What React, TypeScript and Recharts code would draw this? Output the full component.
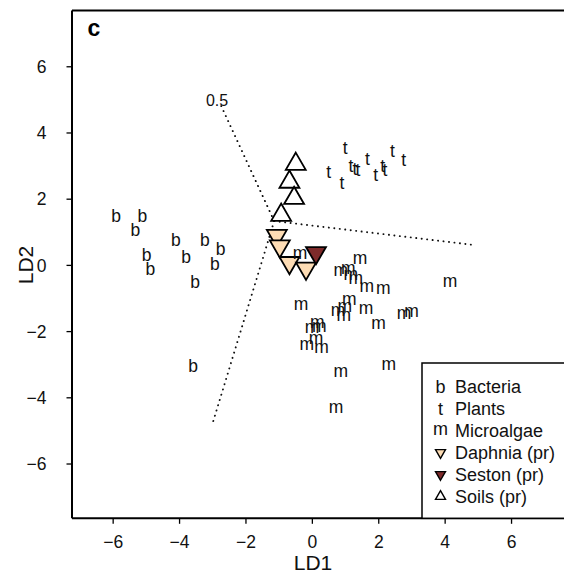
import React from "react";
import {
  ScatterChart,
  Scatter,
  XAxis,
  YAxis,
  ReferenceLine,
  ReferenceDot,
  Label,
} from "recharts";

const FONT = "'Liberation Sans', Arial, Helvetica, sans-serif";

// LD scores
const bacteria = [
  { x: -5.91, y: 1.5 },
  { x: -5.12, y: 1.5 },
  { x: -5.33, y: 1.07 },
  { x: -4.11, y: 0.79 },
  { x: -3.24, y: 0.79 },
  { x: -2.76, y: 0.51 },
  { x: -4.99, y: 0.31 },
  { x: -3.8, y: 0.25 },
  { x: -4.88, y: -0.11 },
  { x: -2.94, y: 0.05 },
  { x: -3.53, y: -0.5 },
  { x: -3.59, y: -3.03 },
];

const plants = [
  { x: 0.99, y: 3.54 },
  { x: 0.49, y: 2.81 },
  { x: 0.89, y: 2.48 },
  { x: 1.16, y: 3.0 },
  { x: 1.28, y: 2.92 },
  { x: 1.37, y: 2.86 },
  { x: 1.66, y: 3.21 },
  { x: 1.91, y: 2.71 },
  { x: 2.12, y: 3.0 },
  { x: 2.19, y: 2.88 },
  { x: 2.41, y: 3.44 },
  { x: 2.75, y: 3.19 },
];

const microalgae = [
  { x: -0.37, y: 0.32 },
  { x: 1.44, y: 0.19 },
  { x: 0.86, y: -0.19 },
  { x: 1.08, y: -0.11 },
  { x: 1.16, y: -0.29 },
  { x: 1.31, y: -0.42 },
  { x: 1.64, y: -0.67 },
  { x: 2.14, y: -0.74 },
  { x: 4.15, y: -0.52 },
  { x: -0.34, y: -1.21 },
  { x: 1.11, y: -1.06 },
  { x: 0.98, y: -1.26 },
  { x: 0.77, y: -1.4 },
  { x: 0.95, y: -1.55 },
  { x: 1.62, y: -1.32 },
  { x: 1.99, y: -1.78 },
  { x: 2.76, y: -1.47 },
  { x: 2.99, y: -1.41 },
  { x: 0.15, y: -1.75 },
  { x: -0.01, y: -1.9 },
  { x: 0.21, y: -1.87 },
  { x: 0.11, y: -2.25 },
  { x: -0.17, y: -2.43 },
  { x: 0.28, y: -2.5 },
  { x: 0.86, y: -3.24 },
  { x: 2.3, y: -3.03 },
  { x: 0.71, y: -4.31 },
];

const daphnia = [
  { x: -1.07, y: 0.9 },
  { x: -0.98, y: 0.58 },
  { x: -0.69, y: 0.08 },
  { x: -0.19, y: -0.09 },
];

const seston = [{ x: 0.11, y: 0.38 }];

const soils = [
  { x: -0.5, y: 3.06 },
  { x: -0.69, y: 2.52 },
  { x: -0.55, y: 2.03 },
  { x: -0.94, y: 1.52 },
];

// dotted loading vectors
const vectorOrigin = { x: -1.15, y: 1.34 };
const vectorEnds = [
  { x: -2.78, y: 4.89 },
  { x: 4.84, y: 0.62 },
  { x: -3.02, y: -4.82 },
];
const scaleLabel = { x: -2.87, y: 4.98, text: "0.5" };

const ticks = [-6, -4, -2, 0, 2, 4, 6];
const X_DOMAIN: [number, number] = [-7.24, 7.58];
const Y_DOMAIN: [number, number] = [-7.64, 7.7];

const legendItems = [
  { key: "b", label: "Bacteria" },
  { key: "t", label: "Plants" },
  { key: "m", label: "Microalgae" },
  { key: "down", label: "Daphnia (pr)", fill: "#fddcb4" },
  { key: "down", label: "Seston (pr)", fill: "#7e2a2a" },
  { key: "up", label: "Soils (pr)", fill: "#ffffff" },
];

const fmt = (v: number) => (v < 0 ? "\u2212" + Math.abs(v) : String(v));

// baseline offset so the glyph box is centred on the point (R style)
const letterOffset: Record<string, number> = { b: 0.36, t: 0.33, m: 0.26 };

const LETTER_SIZE = 17.5;
const LEGEND_SIZE = 18;

function letterShape(ch: string, size: number) {
  return (p: any) => (
    <text
      x={p.cx}
      y={p.cy + letterOffset[ch] * size}
      textAnchor="middle"
      fontSize={size}
      fontFamily={FONT}
      fill="#111"
    >
      {ch}
    </text>
  );
}

function triPoints(cx: number, cy: number, xc: number, down: boolean) {
  const r = 1.5551 * xc;
  const h = 1.3468 * xc;
  const yc = 0.7776 * xc;
  if (down)
    return `${cx},${cy + r} ${cx + h},${cy - yc} ${cx - h},${cy - yc}`;
  return `${cx},${cy - r} ${cx + h},${cy + yc} ${cx - h},${cy + yc}`;
}

function triShape(fill: string, down: boolean) {
  return (p: any) => (
    <polygon
      points={triPoints(p.cx, p.cy, 7.4, down)}
      fill={fill}
      stroke="#000"
      strokeWidth={1.8}
      strokeLinejoin="miter"
    />
  );
}

function LegendBox() {
  const x0 = 422;
  const y0 = 363;
  const rowY = (i: number) => 386.7 + i * 21.95;
  return (
    <svg
      width={564}
      height={573}
      style={{ position: "absolute", left: 0, top: 0, pointerEvents: "none" }}
    >
      <rect
        x={x0}
        y={y0}
        width={200}
        height={155.3}
        fill="#fff"
        stroke="#000"
        strokeWidth={1.5}
      />
      {legendItems.map((it, i) => {
        const cy = rowY(i);
        const sym =
          it.key === "up" || it.key === "down" ? (
            <polygon
              points={triPoints(440.5, cy, 3.7, it.key === "down")}
              fill={it.fill}
              stroke="#000"
              strokeWidth={1.4}
            />
          ) : (
            <text
              x={440.5}
              y={cy + letterOffset[it.key] * LEGEND_SIZE}
              textAnchor="middle"
              fontSize={LEGEND_SIZE}
              fontFamily={FONT}
              fill="#111"
            >
              {it.key}
            </text>
          );
        return (
          <g key={it.label}>
            {sym}
            <text
              x={455}
              y={cy + 0.358 * LEGEND_SIZE}
              fontSize={LEGEND_SIZE}
              fontFamily={FONT}
              fill="#111"
            >
              {it.label}
            </text>
          </g>
        );
      })}
    </svg>
  );
}

export default function App() {
  return (
    <div
      style={{
        position: "absolute",
        left: 0,
        top: 0,
        width: 564,
        height: 573,
        overflow: "hidden",
        background: "#fff",
      }}
    >
      <ScatterChart
        width={564}
        height={573}
        margin={{ top: 10.5, right: 0, bottom: 0, left: 0 }}
      >
        <XAxis
          type="number"
          dataKey="x"
          domain={X_DOMAIN}
          ticks={ticks}
          allowDataOverflow
          height={54.7}
          tickFormatter={fmt}
          axisLine={{ stroke: "#000", strokeWidth: 2 }}
          tickLine={{ stroke: "#000", strokeWidth: 1.3 }}
          tickSize={5.5}
          tickMargin={12}
          tick={{ fill: "#111", fontSize: 17.5, fontFamily: FONT }}
        >
          <Label
            content={() => (
              <text
                x={313}
                y={570}
                textAnchor="middle"
                fontSize={21}
                fontFamily={FONT}
                fill="#111"
              >
                LD1
              </text>
            )}
          />
        </XAxis>
        <YAxis
          type="number"
          dataKey="y"
          domain={Y_DOMAIN}
          ticks={ticks}
          allowDataOverflow
          width={72}
          tickFormatter={fmt}
          axisLine={{ stroke: "#000", strokeWidth: 2 }}
          tickLine={{ stroke: "#000", strokeWidth: 1.3 }}
          tickSize={5.5}
          tickMargin={20}
          tick={{ fill: "#111", fontSize: 17.5, fontFamily: FONT }}
        >
          <Label
            content={() => (
              <text
                transform="translate(33,265) rotate(-90)"
                textAnchor="middle"
                fontSize={21}
                fontFamily={FONT}
                fill="#111"
              >
                LD2
              </text>
            )}
          />
        </YAxis>
        <ReferenceLine
          y={Y_DOMAIN[1]}
          stroke="#000"
          strokeWidth={2}
          ifOverflow="visible"
        />
        {vectorEnds.map((e, i) => (
          <ReferenceLine
            key={i}
            segment={[vectorOrigin, e]}
            stroke="#111"
            strokeWidth={1.9}
            strokeDasharray="0.1 5.4"
            strokeLinecap="round"
            ifOverflow="visible"
          />
        ))}
        <ReferenceDot
          x={scaleLabel.x}
          y={scaleLabel.y}
          r={0}
          ifOverflow="visible"
          shape={(p: any) => (
            <text
              x={p.cx}
              y={p.cy + 5.6}
              textAnchor="middle"
              fontSize={16}
              fontFamily={FONT}
              fill="#111"
            >
              {scaleLabel.text}
            </text>
          )}
        />
        <ReferenceDot
          x={-6.58}
          y={7.12}
          r={0}
          ifOverflow="visible"
          shape={(p: any) => (
            <text
              x={p.cx}
              y={p.cy + 6.5}
              textAnchor="middle"
              fontSize={23}
              fontWeight="bold"
              fontFamily={FONT}
              fill="#000"
            >
              c
            </text>
          )}
        />
        <Scatter data={soils} shape={triShape("#ffffff", false)} isAnimationActive={false} />
        <Scatter data={daphnia} shape={triShape("#fddcb4", true)} isAnimationActive={false} />
        <Scatter data={seston} shape={triShape("#7e2a2a", true)} isAnimationActive={false} />
        <Scatter data={bacteria} shape={letterShape("b", LETTER_SIZE)} isAnimationActive={false} />
        <Scatter data={plants} shape={letterShape("t", LETTER_SIZE)} isAnimationActive={false} />
        <Scatter data={microalgae} shape={letterShape("m", LETTER_SIZE)} isAnimationActive={false} />
      </ScatterChart>
      <LegendBox />
    </div>
  );
}
